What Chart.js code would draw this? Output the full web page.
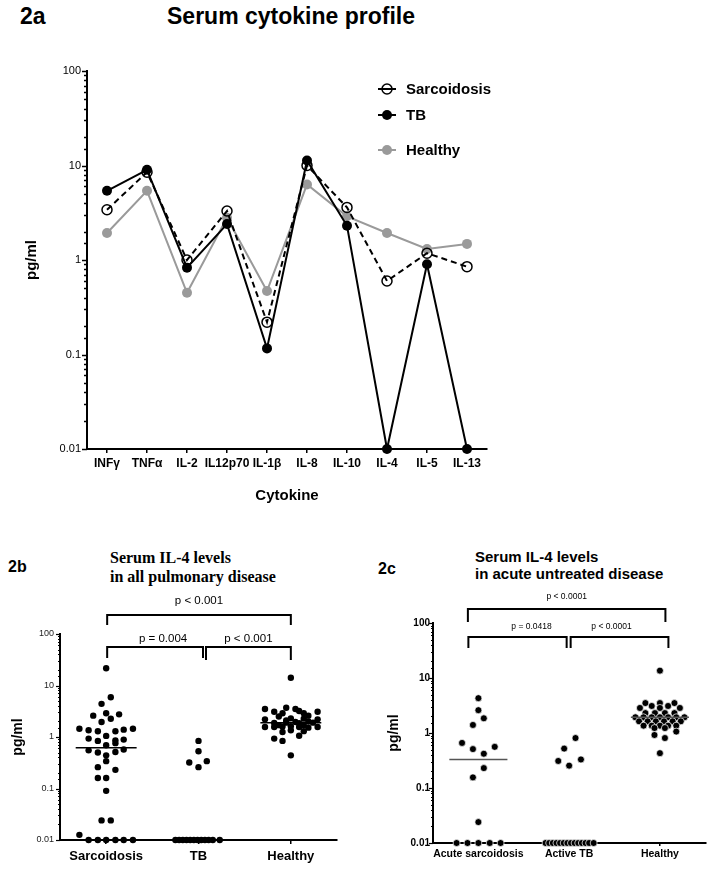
<!DOCTYPE html>
<html>
<head>
<meta charset="utf-8">
<title>Serum cytokine profile</title>
<script src="https://cdn.jsdelivr.net/npm/chart.js@4.4.0/dist/chart.umd.min.js"></script>
<style>
  html, body { margin: 0; padding: 0; background: #fff; }
  body { width: 710px; height: 891px; position: relative; overflow: hidden;
         font-family: 'Liberation Sans', Arial, sans-serif; color: #000; }
  .txt { position: absolute; line-height: 1; white-space: nowrap; font-weight: bold; }
  canvas { position: absolute; }
</style>
</head>
<body>

<div class="txt" style="left:20px; top:5px; font-size:23px;">2a</div>
<div class="txt" style="left:167px; top:5px; font-size:23px;">Serum cytokine profile</div>

<div class="txt" style="left:8px; top:559px; font-size:16px;">2b</div>
<div class="txt" style="left:110px; top:548px; font-size:16px; line-height:19px; font-family:'Liberation Serif', serif;">Serum IL-4 levels<br>in all pulmonary disease</div>

<div class="txt" style="left:378px; top:561px; font-size:16px;">2c</div>
<div class="txt" style="left:475px; top:548px; font-size:15px; line-height:17px;">Serum IL-4 levels<br>in acute untreated disease</div>

<canvas id="profileChart" width="710" height="490" style="left:0; top:40px;"></canvas>
<canvas id="allChart" width="355" height="301" style="left:0; top:590px;"></canvas>
<canvas id="acuteChart" width="355" height="301" style="left:355px; top:590px;"></canvas>

<script>
// ========================================
// DATA
// ========================================

// 2a - serum cytokine profile, pg/ml
const cytokines = ['INFγ', 'TNFα', 'IL-2', 'IL12p70', 'IL-1β', 'IL-8', 'IL-10', 'IL-4', 'IL-5', 'IL-13'];
const sarcProfile    = [3.4, 8.5, 1.0, 3.3, 0.22, 10.0, 3.6, 0.6, 1.18, 0.85];
const tbProfile      = [5.4, 9.0, 0.83, 2.4, 0.116, 11.3, 2.3, 0.01, 0.9, 0.01];
const healthyProfile = [1.93, 5.4, 0.45, 2.8, 0.47, 6.3, 2.9, 1.93, 1.31, 1.48];

const yTickLabels = ['0.01', '0.1', '1', '10', '100'];

// 2b - serum IL-4, all pulmonary disease: [spread within group, pg/ml]
const groupsAll = ['Sarcoidosis', 'TB', 'Healthy'];
const sarcAll = [
  [0, 21.6], [0.05, 5.9], [-0.05, 4.4], [-0.14, 2.6], [0, 2.9], [0.14, 2.75], [0.05, 2.26], [-0.05, 1.95],
  [-0.29, 1.45], [-0.19, 1.35], [-0.09, 1.29], [0.10, 1.29], [0.19, 1.39], [0.29, 1.45],
  [0, 1.05], [-0.19, 0.93], [-0.09, 0.84], [0.10, 0.86], [0.19, 0.89], [0, 0.69], [0.10, 0.76],
  [-0.19, 0.55], [-0.09, 0.50], [0, 0.44], [0.10, 0.51], [0.19, 0.57],
  [0, 0.34], [-0.09, 0.26], [0.10, 0.23], [-0.09, 0.16], [0, 0.16], [0, 0.09],
  [-0.05, 0.024], [0.05, 0.024], [-0.29, 0.0126],
  [-0.19, 0.01], [-0.09, 0.01], [0, 0.01], [0.10, 0.01], [0.19, 0.01], [0.29, 0.01]
];
const tbAll = [
  [0, 0.84], [0, 0.53], [-0.10, 0.32], [0, 0.26], [0.09, 0.34],
  [-0.25, 0.01], [-0.21, 0.01], [-0.17, 0.01], [-0.13, 0.01], [-0.09, 0.01], [-0.05, 0.01],
  [-0.01, 0.01], [0.03, 0.01], [0.07, 0.01], [0.11, 0.01], [0.155, 0.01], [0.23, 0.01]
];
const healthyAll = [
  [0, 14.1],
  [-0.28, 3.5], [-0.18, 3.1], [-0.05, 3.7], [0.05, 3.5], [0.14, 2.9], [0.19, 2.6], [0.29, 3.1], [-0.09, 2.9], [0.09, 3.2],
  [-0.28, 2.2], [-0.13, 2.5], [0, 2.3], [0.14, 2.27], [0.29, 2.2], [-0.05, 2.1], [0.19, 2.0],
  [-0.18, 1.87], [-0.05, 1.9], [0.05, 1.95], [0.09, 1.85], [0.24, 1.9],
  [-0.28, 1.56], [-0.18, 1.56], [-0.09, 1.6], [0, 1.62], [0.09, 1.56], [0.19, 1.52], [0.29, 1.56], [-0.13, 1.7], [0.14, 1.7],
  [-0.09, 1.25], [0, 1.35], [0.14, 1.3],
  [0.09, 1.06], [-0.18, 0.93], [-0.09, 0.84], [0, 0.44]
];
const mediansAll = [0.62, null, 1.9];
const pValuesAll = ['p < 0.001', 'p = 0.004', 'p < 0.001'];

// 2c - serum IL-4, acute untreated disease
const groupsAcute = ['Acute sarcoidosis', 'Active TB', 'Healthy'];
const sarcAcute = [
  [0, 4.3], [0, 2.6], [0.06, 1.85], [-0.06, 1.4], [-0.18, 0.66], [-0.06, 0.51], [0.18, 0.56],
  [0.06, 0.42], [0.06, 0.23], [-0.06, 0.156], [0, 0.024],
  [-0.24, 0.01], [-0.12, 0.01], [0, 0.01], [0.125, 0.01], [0.245, 0.01]
];
const tbAcute = [
  [0.07, 0.81], [-0.055, 0.52], [-0.12, 0.31], [0, 0.255], [0.13, 0.33],
  [-0.26, 0.01], [-0.22, 0.01], [-0.18, 0.01], [-0.14, 0.01], [-0.10, 0.01], [-0.06, 0.01], [-0.02, 0.01],
  [0.02, 0.01], [0.06, 0.01], [0.10, 0.01], [0.14, 0.01], [0.18, 0.01], [0.22, 0.01], [0.27, 0.01]
];
const healthyAcute = [
  [0, 13.6],
  [-0.16, 3.5], [0, 3.5], [0.16, 3.5],
  [-0.09, 3.1], [0.09, 3.1],
  [-0.22, 2.85], [0, 2.85], [0.22, 2.85],
  [-0.16, 2.3], [-0.055, 2.3], [0.055, 2.3], [0.16, 2.3],
  [-0.27, 1.93], [-0.18, 1.93], [-0.09, 1.93], [0, 1.93], [0.09, 1.93], [0.18, 1.93], [0.27, 1.93],
  [-0.23, 1.63], [-0.135, 1.63], [-0.045, 1.63], [0.045, 1.63], [0.14, 1.63], [0.23, 1.63],
  [-0.18, 1.36], [-0.09, 1.36], [0, 1.36], [0.09, 1.36], [0.18, 1.36],
  [-0.06, 1.23], [0.055, 1.23],
  [0.18, 1.06], [-0.06, 0.92], [0.055, 0.81], [0, 0.43]
];
const mediansAcute = [0.33, null, 1.93];
const pValuesAcute = ['p < 0.0001', 'p = 0.0418', 'p < 0.0001'];

// which groups each bracket joins (1-based), same order as the p values
const comparisons = [[1, 3], [1, 2], [2, 3]];

// ========================================
// HELPERS / PLUGINS
// ========================================
Chart.defaults.font.family = "'Liberation Sans', Arial, sans-serif";
Chart.defaults.color = '#000';
Chart.defaults.animation = false;

function isDecade(v) {
    const l = Math.log10(v);
    return Math.abs(l - Math.round(l)) < 1e-6;
}

// log axis tick marks: long for decades, short for the rest
const logTicks = {
    id: 'logTicks',
    afterDraw(chart, args, opts) {
        const y = chart.scales.y;
        const ctx = chart.ctx;
        ctx.save();
        ctx.strokeStyle = '#000';
        ctx.lineWidth = opts.width;
        y.ticks.forEach(function(t) {
            const len = isDecade(t.value) ? opts.major : opts.minor;
            const py = Math.round(y.getPixelForValue(t.value)) + 0.5;
            ctx.beginPath();
            ctx.moveTo(y.right, py);
            ctx.lineTo(y.right - len, py);
            ctx.stroke();
        });
        ctx.restore();
    }
};

// significance brackets above the groups
const brackets = {
    id: 'brackets',
    afterDraw(chart, args, opts) {
        if (!opts.texts) return;
        const x = chart.scales.x;
        const top = chart.chartArea.top;
        const ctx = chart.ctx;
        ctx.save();
        ctx.strokeStyle = '#000';
        ctx.fillStyle = '#000';
        ctx.lineWidth = 2;
        ctx.font = opts.font;
        ctx.textAlign = 'center';
        ctx.textBaseline = 'middle';
        comparisons.forEach(function(pair, i) {
            const g = opts.geom[i];
            const xa = x.getPixelForValue(pair[0]) + g.a;
            const xb = x.getPixelForValue(pair[1]) + g.b;
            const yl = top + g.line;
            const ye = top + g.end;
            ctx.beginPath();
            ctx.moveTo(xa, ye);
            ctx.lineTo(xa, yl);
            ctx.lineTo(xb, yl);
            ctx.lineTo(xb, ye);
            ctx.stroke();
            ctx.fillText(opts.texts[i], (xa + xb) / 2 + g.dx, top + g.label);
        });
        ctx.restore();
    }
};

// legend of panel 2a (line + marker + label)
const profileLegend = {
    id: 'profileLegend',
    afterDraw(chart) {
        const ctx = chart.ctx;
        const rows = [49, 75, 110];
        ctx.save();
        ctx.font = "bold 15px 'Liberation Sans', Arial, sans-serif";
        ctx.textBaseline = 'middle';
        chart.data.datasets.forEach(function(ds, i) {
            const y = rows[i];
            ctx.strokeStyle = ds.borderColor;
            ctx.lineWidth = 2;
            ctx.setLineDash([]);
            ctx.beginPath();
            ctx.moveTo(378, y);
            ctx.lineTo(396, y);
            ctx.stroke();
            ctx.beginPath();
            ctx.arc(387, y, 5, 0, Math.PI * 2);
            if (ds.pointBackgroundColor !== 'rgba(0,0,0,0)') {
                ctx.fillStyle = ds.pointBackgroundColor;
                ctx.fill();
            } else {
                ctx.lineWidth = 1.5;
                ctx.strokeStyle = ds.pointBorderColor;
                ctx.stroke();
            }
            ctx.fillStyle = '#000';
            ctx.fillText(ds.label, 406, y + 1);
        });
        ctx.restore();
    }
};

function logAxis(o) {
    return {
        type: 'logarithmic',
        min: 0.01,
        max: 100,
        afterFit: function(s) { s.width = o.width; },
        grid: { display: false, drawTicks: false },
        border: { display: true, color: '#000', width: o.border },
        ticks: {
            autoSkip: false,
            padding: o.pad,
            color: o.color || '#000',
            font: o.font,
            callback: function(v) {
                return isDecade(v) ? yTickLabels[Math.round(Math.log10(v)) + 2] : '';
            }
        },
        title: {
            display: true,
            text: 'pg/ml',
            color: '#000',
            font: o.titleFont,
            padding: { top: o.titlePad }
        }
    };
}

// ========================================
// 2a - LINE CHART
// ========================================
new Chart(document.getElementById('profileChart'), {
    type: 'line',
    data: {
        labels: cytokines,
        datasets: [
            {
                label: 'Sarcoidosis',
                data: sarcProfile,
                order: 1,
                borderColor: '#000',
                borderWidth: 2,
                borderDash: [6, 4],
                pointRadius: 5,
                pointBorderWidth: 1.5,
                pointBorderColor: '#000',
                pointBackgroundColor: 'rgba(0,0,0,0)',
                clip: false
            },
            {
                label: 'TB',
                data: tbProfile,
                order: 0,
                borderColor: '#000',
                borderWidth: 2,
                pointRadius: 5,
                pointBorderWidth: 0,
                pointBorderColor: '#000',
                pointBackgroundColor: '#000',
                clip: false
            },
            {
                label: 'Healthy',
                data: healthyProfile,
                order: 2,
                borderColor: '#9a9a9a',
                borderWidth: 2,
                pointRadius: 5,
                pointBorderWidth: 0,
                pointBorderColor: '#9a9a9a',
                pointBackgroundColor: '#9a9a9a',
                clip: false
            }
        ]
    },
    options: {
        responsive: false,
        events: [],
        layout: { padding: { top: 31, right: 223, bottom: 0, left: 0 } },
        plugins: {
            legend: { display: false },
            tooltip: { enabled: false },
            logTicks: { major: 5, minor: 3, width: 1.5 }
        },
        scales: {
            x: {
                type: 'category',
                offset: true,
                afterFit: function(s) { s.height = 81; },
                grid: { display: true, drawOnChartArea: false, drawTicks: true, tickLength: 4,
                        offset: false, color: '#000', lineWidth: 1.5 },
                border: { display: true, color: '#000', width: 2 },
                ticks: { color: '#000', font: { size: 12, weight: 'bold' }, padding: 3,
                         maxRotation: 0, autoSkip: false },
                title: { display: true, text: 'Cytokine', color: '#000',
                         font: { size: 15, weight: 'bold' }, padding: { bottom: 25 } }
            },
            y: logAxis({ width: 87, border: 2, pad: 6, font: { size: 11 },
                         titleFont: { size: 15, weight: 'bold' }, titlePad: 23 })
        }
    },
    plugins: [logTicks, profileLegend]
});

// ========================================
// 2b / 2c - DOT PLOTS
// ========================================
function dots(groupIndex, pts) {
    return pts.map(function(p) { return { x: groupIndex + 1 + p[0], y: p[1] }; });
}

function dotChart(id, groups, series, medians, pValues, look) {
    const datasets = [];
    series.forEach(function(pts, i) {
        datasets.push({
            type: 'scatter',
            data: dots(i, pts),
            pointRadius: look.radius,
            pointBackgroundColor: '#000',
            pointBorderColor: look.dotBorder,
            pointBorderWidth: look.dotBorderWidth,
            clip: false
        });
    });
    medians.forEach(function(m, i) {
        if (m === null) return;
        datasets.push({
            type: 'line',
            data: [{ x: i + 1 - look.medHalf, y: m }, { x: i + 1 + look.medHalf, y: m }],
            borderColor: look.medColor,
            borderWidth: 1.5,
            pointRadius: 0,
            order: -1
        });
    });

    return new Chart(document.getElementById(id), {
        type: 'scatter',
        data: { datasets: datasets },
        options: {
            responsive: false,
            events: [],
            layout: { padding: look.padding },
            plugins: {
                legend: { display: false },
                tooltip: { enabled: false },
                logTicks: { major: look.major, minor: look.minor, width: 1.2 },
                brackets: { texts: pValues, font: look.pFont, geom: look.geom }
            },
            scales: {
                x: {
                    type: 'linear',
                    min: 0.5,
                    max: groups.length + 0.5,
                    afterBuildTicks: function(s) {
                        s.ticks = groups.map(function(g, i) { return { value: i + 1 }; });
                    },
                    afterFit: function(s) { s.height = look.xHeight; },
                    grid: { display: true, drawOnChartArea: false, drawTicks: true,
                            tickLength: look.xTick, color: '#000', lineWidth: 1.5 },
                    border: { display: true, color: '#000', width: 2 },
                    ticks: {
                        color: '#000',
                        font: look.xFont,
                        padding: look.xPad,
                        maxRotation: 0,
                        autoSkip: false,
                        callback: function(v) { return groups[Math.round(v) - 1] || ''; }
                    }
                },
                y: logAxis(look.y)
            }
        },
        plugins: [logTicks, brackets]
    });
}

dotChart('allChart', groupsAll, [sarcAll, tbAll, healthyAll], mediansAll, pValuesAll, {
    padding: { top: 44, right: 18, bottom: 0, left: 0 },
    xHeight: 51, xTick: 4, xPad: 5,
    xFont: { size: 13, weight: 'bold' },
    radius: 3.2, dotBorder: '#000', dotBorderWidth: 0,
    medHalf: 0.33, medColor: '#000',
    major: 4, minor: 2,
    pFont: "11.5px 'Liberation Sans', Arial, sans-serif",
    geom: [
        { a: 1, b: 0, line: -19, end: -9, label: -33, dx: 0 },
        { a: 1, b: 4.5, line: 13, end: 24, label: 5, dx: 8 },
        { a: 7.5, b: 0, line: 13, end: 26, label: 5, dx: 0 }
    ],
    y: { width: 60, border: 2, pad: 6, color: '#222', font: { size: 9 },
         titleFont: { size: 14, weight: 'bold' }, titlePad: 9.6 }
});

dotChart('acuteChart', groupsAcute, [sarcAcute, tbAcute, healthyAcute], mediansAcute, pValuesAcute, {
    padding: { top: 33, right: 4, bottom: 0, left: 0 },
    xHeight: 48, xTick: 3, xPad: 2,
    xFont: { size: 10.5, weight: 'bold' },
    radius: 3.5, dotBorder: '#fff', dotBorderWidth: 0.7,
    medHalf: 0.32, medColor: '#555',
    major: 4, minor: 2,
    pFont: "8.5px 'Liberation Sans', Arial, sans-serif",
    geom: [
        { a: -10.5, b: 5.5, line: -14, end: -1, label: -26, dx: 0 },
        { a: -10, b: -2.5, line: 14, end: 25, label: 4, dx: 14 },
        { a: 1.5, b: 8.5, line: 14, end: 25, label: 4, dx: -8 }
    ],
    y: { width: 78, border: 2, pad: 3, font: { size: 10, weight: 'bold' },
         titleFont: { size: 14, weight: 'bold' }, titlePad: 30.6 }
});
</script>
</body>
</html>
